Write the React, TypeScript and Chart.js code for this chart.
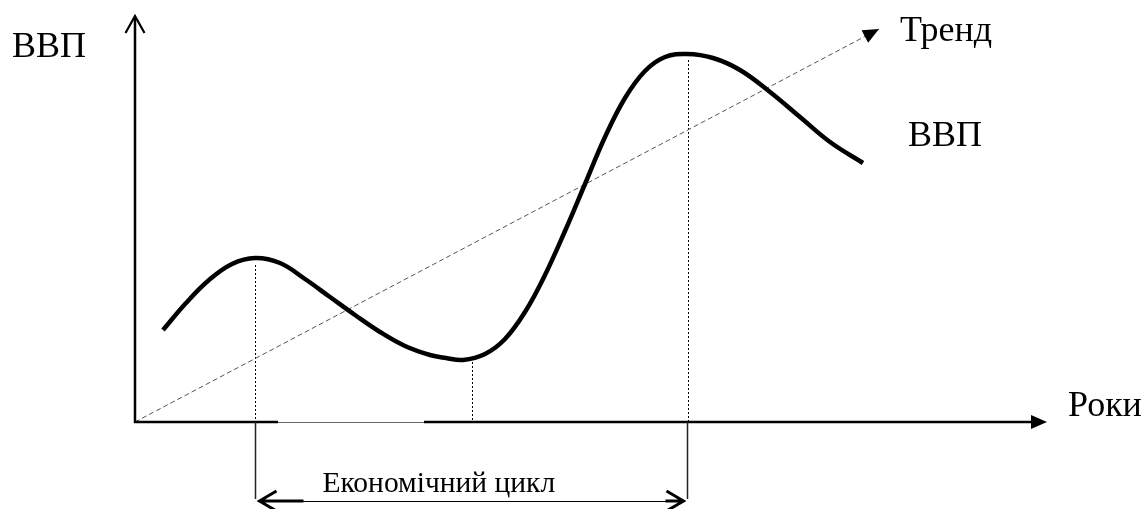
import React, { useEffect, useRef } from "react";
import { Chart, registerables } from "chart.js";

Chart.register(...registerables);

// GDP curve (years, GDP units)
const gdpYears = [2.8, 5.1, 7.4, 9.7, 12.0, 14.5, 17.0, 19.5, 22.0, 24.5, 27.0, 29.5, 31.1, 32.8, 35.0, 37.0, 39.0, 41.0, 43.0, 45.0, 47.0, 49.0, 51.0, 53.0, 55.2, 57.8, 60.5, 63.5, 66.5, 69.5, 72.8];
const gdpValues = [9.2, 11.9, 14.2, 15.8, 16.4, 15.9, 14.3, 12.5, 10.7, 9.0, 7.6, 6.7, 6.4, 6.2, 6.8, 8.3, 11.0, 14.7, 19.1, 23.8, 28.5, 32.4, 35.1, 36.5, 36.8, 36.4, 35.2, 33.0, 30.5, 28.0, 25.9];

// Trend line
const trendYears = [0, 74.4];
const trendValues = [0, 39.3];

// Dotted markers: peak, trough, peak
const markerYears = [12.0, 33.7, 55.3];
const markerValues = [15.7, 6.0, 36.2];

// Economic cycle bracket (from peak to peak)
const cycleYears = [12.0, 55.2];
const cycleLabel = "Економічний цикл";

// Axes
const axisMax = { x: 91.2, y: 40.6 };
const axisGap = [14.3, 28.9];

const labels = {
  yAxis: "ВВП",
  xAxis: "Роки",
  trend: "Тренд",
  series: "ВВП",
};

const FONT = "'Liberation Serif', 'Times New Roman', serif";

const drawPlugin = {
  id: "schematic",
  beforeDatasetsDraw(chart: any) {
    const ctx = chart.ctx as CanvasRenderingContext2D;
    const xs = chart.scales.x;
    const ys = chart.scales.y;
    const X = (v: number) => xs.getPixelForValue(v);
    const Y = (v: number) => ys.getPixelForValue(v);
    ctx.save();
    ctx.strokeStyle = "#000";
    ctx.lineWidth = 1;
    ctx.setLineDash([2, 2]);
    markerYears.forEach((yr, i) => {
      const px = Math.round(X(yr)) + 0.5;
      ctx.beginPath();
      ctx.moveTo(px, Y(markerValues[i]));
      ctx.lineTo(px, Y(0));
      ctx.stroke();
    });
    ctx.restore();
  },
  afterDatasetsDraw(chart: any) {
    const ctx = chart.ctx as CanvasRenderingContext2D;
    const xs = chart.scales.x;
    const ys = chart.scales.y;
    const X = (v: number) => xs.getPixelForValue(v);
    const Y = (v: number) => ys.getPixelForValue(v);
    const ox = X(0);
    const oy = Y(0);
    ctx.save();
    ctx.strokeStyle = "#000";
    ctx.fillStyle = "#000";
    ctx.lineCap = "butt";

    // Y axis
    const yTop = Y(axisMax.y);
    ctx.lineWidth = 2.5;
    ctx.beginPath();
    ctx.moveTo(ox, oy + 1);
    ctx.lineTo(ox, yTop + 1);
    ctx.stroke();
    ctx.lineWidth = 2.2;
    ctx.beginPath();
    ctx.moveTo(ox - 9.5, yTop + 17);
    ctx.lineTo(ox, yTop);
    ctx.lineTo(ox + 9.5, yTop + 17);
    ctx.stroke();

    // X axis with thin gap portion
    const xEnd = X(axisMax.x);
    ctx.lineWidth = 2.5;
    ctx.beginPath();
    ctx.moveTo(ox - 1, oy);
    ctx.lineTo(X(axisGap[0]), oy);
    ctx.moveTo(X(axisGap[1]), oy);
    ctx.lineTo(xEnd - 14, oy);
    ctx.stroke();
    ctx.lineWidth = 1;
    ctx.strokeStyle = "#666";
    ctx.beginPath();
    ctx.moveTo(X(axisGap[0]), oy + 0.5);
    ctx.lineTo(X(axisGap[1]), oy + 0.5);
    ctx.stroke();
    ctx.strokeStyle = "#000";
    ctx.beginPath();
    ctx.moveTo(xEnd, oy);
    ctx.lineTo(xEnd - 16, oy - 7);
    ctx.lineTo(xEnd - 16, oy + 7);
    ctx.closePath();
    ctx.fill();

    // Trend arrowhead
    const tx0 = X(trendYears[0]), ty0 = Y(trendValues[0]);
    const tx1 = X(trendYears[1]), ty1 = Y(trendValues[1]);
    const ang = Math.atan2(ty1 - ty0, tx1 - tx0);
    const hl = 16, hw = 7;
    ctx.beginPath();
    ctx.moveTo(tx1, ty1);
    ctx.lineTo(tx1 - hl * Math.cos(ang) + hw * Math.sin(ang), ty1 - hl * Math.sin(ang) - hw * Math.cos(ang));
    ctx.lineTo(tx1 - hl * Math.cos(ang) - hw * Math.sin(ang), ty1 - hl * Math.sin(ang) + hw * Math.cos(ang));
    ctx.closePath();
    ctx.fill();

    // Cycle bracket
    const bx0 = Math.round(X(cycleYears[0])) + 0.5;
    const bx1 = Math.round(X(cycleYears[1])) + 0.5;
    const bBottom = oy + 77;
    const bArrow = oy + 79;
    ctx.lineWidth = 1.5;
    ctx.strokeStyle = "#222";
    ctx.beginPath();
    ctx.moveTo(bx0, oy);
    ctx.lineTo(bx0, bBottom);
    ctx.moveTo(bx1, oy);
    ctx.lineTo(bx1, bBottom);
    ctx.stroke();
    ctx.strokeStyle = "#000";
    ctx.lineWidth = 1;
    ctx.beginPath();
    ctx.moveTo(bx0 + 4, bArrow + 0.5);
    ctx.lineTo(bx1 - 4, bArrow + 0.5);
    ctx.stroke();
    ctx.lineWidth = 3;
    ctx.beginPath();
    ctx.moveTo(bx0 + 4, bArrow);
    ctx.lineTo(bx0 + 48, bArrow);
    ctx.moveTo(bx0 + 21, bArrow - 10);
    ctx.lineTo(bx0 + 4, bArrow);
    ctx.lineTo(bx0 + 21, bArrow + 10);
    ctx.moveTo(bx1 - 4, bArrow);
    ctx.lineTo(bx1 - 22, bArrow);
    ctx.moveTo(bx1 - 21, bArrow - 10);
    ctx.lineTo(bx1 - 4, bArrow);
    ctx.lineTo(bx1 - 21, bArrow + 10);
    ctx.stroke();

    // Labels
    ctx.textBaseline = "alphabetic";
    ctx.textAlign = "left";
    ctx.font = `36px ${FONT}`;
    ctx.fillText(labels.yAxis, ox - 123, oy - 365);
    ctx.fillText(labels.trend, tx1 + 21, ty1 + 12);
    ctx.fillText(labels.series, X(gdpYears[gdpYears.length - 1]) + 45, oy - 276);
    ctx.fillText(labels.xAxis, xEnd + 21, oy - 6);
    ctx.font = `29.5px ${FONT}`;
    ctx.fillText(cycleLabel, bx0 + 67, oy + 70);

    ctx.restore();
  },
};

export default function App() {
  const ref = useRef<HTMLCanvasElement | null>(null);
  useEffect(() => {
    if (!ref.current) return;
    const chart = new Chart(ref.current, {
      type: "line",
      data: {
        datasets: [
          {
            data: gdpYears.map((x, i) => ({ x, y: gdpValues[i] })),
            borderColor: "#000",
            borderWidth: 4.5,
            pointRadius: 0,
            tension: 0.4,
            borderCapStyle: "butt",
            clip: false as any,
          },
          {
            data: trendYears.map((x, i) => ({ x, y: trendValues[i] })),
            borderColor: "#555",
            borderWidth: 1,
            borderDash: [5, 3],
            pointRadius: 0,
            clip: false as any,
          },
        ],
      },
      options: {
        animation: false,
        responsive: false,
        devicePixelRatio: 1,
        layout: { padding: 0 },
        plugins: { legend: { display: false }, tooltip: { enabled: false } },
        scales: {
          x: { type: "linear", min: -13.5, max: 101.2, display: false },
          y: { type: "linear", min: -8.7, max: 42.2, display: false },
        },
      },
      plugins: [drawPlugin],
    });
    return () => chart.destroy();
  }, []);
  return (
    <div style={{ position: "absolute", left: 0, top: 0, width: 1147, height: 509, background: "#fff" }}>
      <canvas ref={ref} width={1147} height={509} style={{ width: 1147, height: 509, display: "block" }} />
    </div>
  );
}
